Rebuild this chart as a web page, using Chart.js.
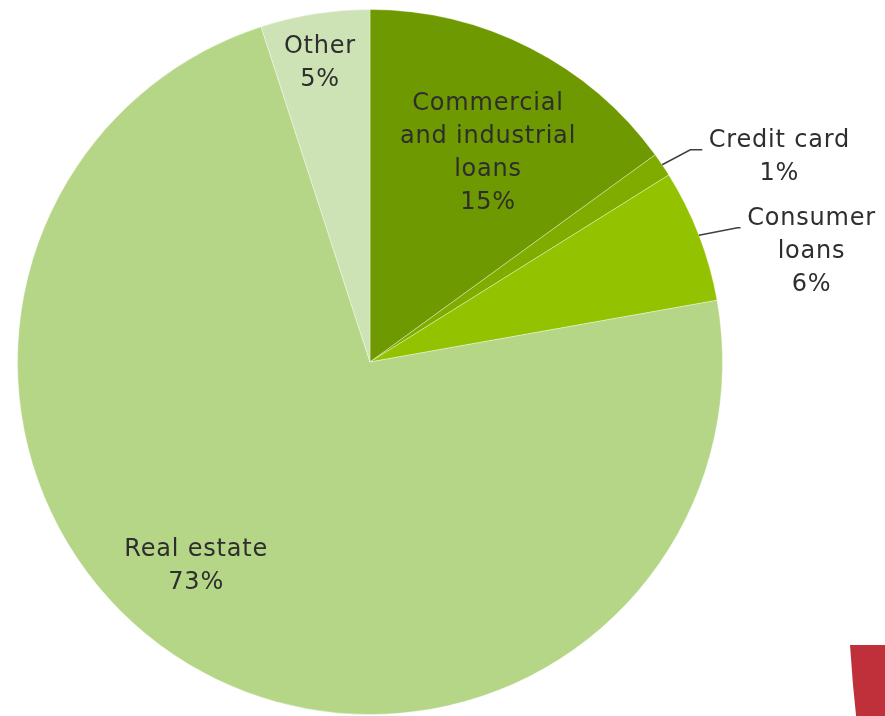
<!DOCTYPE html>
<html>
<head>
<meta charset="utf-8">
<script src="https://cdn.jsdelivr.net/npm/chart.js@4.4.1/dist/chart.umd.min.js"></script>
<style>
  html, body { margin: 0; padding: 0; background: #ffffff; overflow: hidden; }
  #wrap { position: relative; width: 885px; height: 716px; }
  #accent {
    position: absolute; left: 850px; top: 645px; width: 40px; height: 80px;
    background: #c0303a;
    clip-path: polygon(0 0, 100% 0, 100% 100%, 7px 100%, 3px 40px);
  }
</style>
</head>
<body>
<div id="wrap">
  <canvas id="chart" width="885" height="716"></canvas>
  <div id="accent"></div>
</div>
<script>
// Loan portfolio composition (share of total, %)
const categories = [
  ['Commercial', 'and industrial', 'loans'],
  ['Credit card'],
  ['Consumer', 'loans'],
  ['Real estate'],
  ['Other']
];
const shares = [15.0, 1.1, 6.1, 72.8, 5.0];
const sliceColors = ['#6f9900', '#80ac00', '#93c300', '#b5d686', '#cde3b5'];

// Label placement: inside labels sit along the slice at a fraction of the radius;
// outside labels get a leader line from the rim.
const labelPlacement = [
  { inside: true, k: 0.68, da: 2.5 },
  { inside: false, k: 1.09, da: 0.5, tail: 12, textDx: 77 },
  { inside: false, k: 1.11, da: 1.0, tail: 3, textDx: 71 },
  { inside: true, k: 0.76, da: 9.5 },
  { inside: true, k: 0.86, da: -0.5 }
];

const FONT = '24px "DejaVu Sans", sans-serif';
const LINE_H = 33;
const TEXT_COLOR = '#2e2e2e';

const sliceLabels = {
  id: 'sliceLabels',
  afterDatasetsDraw(chart) {
    const ctx = chart.ctx;
    const meta = chart.getDatasetMeta(0);
    const values = chart.data.datasets[0].data;
    ctx.save();
    ctx.font = FONT;
    if ('letterSpacing' in ctx) ctx.letterSpacing = '0.8px';
    ctx.fillStyle = TEXT_COLOR;
    ctx.textAlign = 'center';
    ctx.textBaseline = 'middle';
    meta.data.forEach((arc, i) => {
      const p = labelPlacement[i];
      const lines = categories[i].concat([Math.round(values[i]) + '%']);
      const mid = (arc.startAngle + arc.endAngle) / 2 + p.da * Math.PI / 180;
      const r = arc.outerRadius;
      if (p.inside) {
        const cx = arc.x + Math.cos(mid) * r * p.k;
        const cy = arc.y + Math.sin(mid) * r * p.k;
        const top = cy - (lines.length - 1) * LINE_H / 2;
        lines.forEach((t, j) => ctx.fillText(t, cx, top + j * LINE_H));
      } else {
        const m0 = (arc.startAngle + arc.endAngle) / 2;
        const sx = arc.x + Math.cos(m0) * r;
        const sy = arc.y + Math.sin(m0) * r;
        const ex = arc.x + Math.cos(mid) * r * p.k;
        const ey = arc.y + Math.sin(mid) * r * p.k;
        ctx.beginPath();
        ctx.strokeStyle = '#404040';
        ctx.lineWidth = 1.5;
        ctx.moveTo(sx, sy);
        ctx.lineTo(ex, ey);
        ctx.lineTo(ex + p.tail, ey);
        ctx.stroke();
        const tx = ex + p.tail + p.textDx;
        const top = ey - 9;
        lines.forEach((t, j) => ctx.fillText(t, tx, top + j * LINE_H));
      }
    });
    ctx.restore();
  }
};

new Chart(document.getElementById('chart'), {
  type: 'pie',
  data: {
    labels: categories.map(c => c.join(' ')),
    datasets: [{
      data: shares,
      backgroundColor: sliceColors,
      borderColor: 'rgba(255,255,255,0.35)',
      borderWidth: 1
    }]
  },
  options: {
    responsive: false,
    animation: false,
    layout: { padding: { left: 16, right: 161, top: 9, bottom: 1 } },
    plugins: {
      legend: { display: false },
      tooltip: { enabled: false }
    }
  },
  plugins: [sliceLabels]
});
</script>
</body>
</html>
